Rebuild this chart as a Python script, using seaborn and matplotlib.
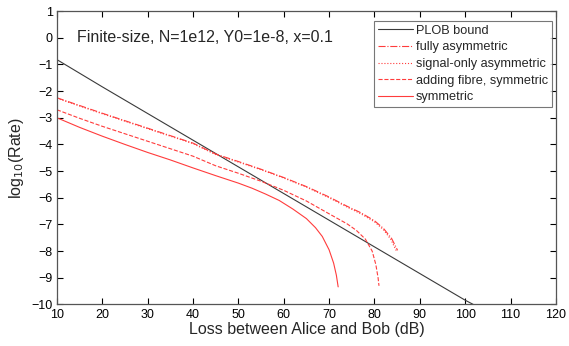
import matplotlib
matplotlib.use("Agg")
import matplotlib.pyplot as plt
import seaborn as sns
import pandas as pd

# Values (loss in dB, log10 of key rate)
plob_loss = [10, 20, 30, 40, 50, 60, 70, 80, 90, 100, 101.8]
plob_rate = [-0.82, -1.84, -2.84, -3.84, -4.84, -5.84, -6.84, -7.84, -8.84, -9.84, -10.0]

full_loss = [10, 15, 20, 25, 30, 35, 40, 45, 50, 55, 60, 65, 70, 74, 77, 80, 82, 83.8, 85.1]
full_rate = [-2.25, -2.54, -2.83, -3.11, -3.39, -3.67, -3.95, -4.36, -4.64, -4.93, -5.24, -5.58, -5.97, -6.32, -6.56, -6.86, -7.15, -7.53, -7.97]

signal_loss = [10, 15, 20, 25, 30, 35, 40, 45, 50, 55, 60, 65, 70, 74, 77, 80, 82, 83.6, 84.8]
signal_rate = [-2.27, -2.56, -2.85, -3.13, -3.41, -3.69, -3.97, -4.38, -4.66, -4.95, -5.26, -5.6, -6.0, -6.35, -6.6, -6.9, -7.2, -7.56, -7.98]

fibre_loss = [10, 15, 20, 25, 30, 35, 40, 45, 50, 55, 60, 65, 70, 74, 76, 78, 79.5, 80.3, 80.8, 81.0]
fibre_rate = [-2.7, -3.02, -3.32, -3.6, -3.88, -4.16, -4.44, -4.8, -5.08, -5.38, -5.72, -6.12, -6.6, -6.98, -7.22, -7.55, -8.0, -8.5, -9.0, -9.3]

sym_loss = [10, 15, 20, 25, 30, 35, 40, 45, 50, 53, 56, 59, 62, 65, 67, 68.5, 70, 71, 71.6, 72.0]
sym_rate = [-3.0, -3.36, -3.69, -4.0, -4.3, -4.58, -4.88, -5.17, -5.45, -5.64, -5.86, -6.1, -6.42, -6.78, -7.12, -7.45, -7.95, -8.45, -8.9, -9.34]

series = [
    ("PLOB bound", plob_loss, plob_rate, "#3a3a3a", "-"),
    ("fully asymmetric", full_loss, full_rate, "#ff3c3c", "-."),
    ("signal-only asymmetric", signal_loss, signal_rate, "#ff3c3c", ":"),
    ("adding fibre, symmetric", fibre_loss, fibre_rate, "#ff3c3c", "--"),
    ("symmetric", sym_loss, sym_rate, "#ff3c3c", "-"),
]

sns.set_theme(style="ticks")
plt.rcParams['font.family'] = ['Liberation Sans', 'DejaVu Sans']

fig = plt.figure(figsize=(5.69, 3.46), dpi=100)
ax = fig.add_axes([0.100, 0.120, 0.877, 0.848])

for name, xs, ys, col, ls in series:
    df = pd.DataFrame({"loss": xs, "rate": ys})
    sns.lineplot(data=df, x="loss", y="rate", ax=ax, color=col,
                 linestyle=ls, linewidth=0.8, label=name, sort=False)

ax.set_xlim(10, 120)
ax.set_ylim(-10, 1)
ax.set_xticks(range(10, 121, 10))
ax.set_yticks(range(-10, 2))
ax.tick_params(direction="in", top=True, right=True, length=4, width=0.8,
               labelsize=9, colors="black", pad=3)
for sp in ax.spines.values():
    sp.set_color("#555555")
    sp.set_linewidth(0.9)

ax.set_xlabel("Loss between Alice and Bob (dB)", fontsize=11.5, labelpad=1)
ax.set_ylabel(r"log$_{10}$(Rate)", fontsize=11.5, labelpad=4)

ax.text(14.4, 0.0, "Finite-size, N=1e12, Y0=1e-8, x=0.1", fontsize=11.5,
        va="center", ha="left")

leg = ax.legend(loc="upper right", bbox_to_anchor=(0.997, 0.975), fontsize=9.2,
                frameon=True, fancybox=False, handlelength=2.8,
                handletextpad=0.2, labelspacing=0.36, borderpad=0.3,
                borderaxespad=0.2)
leg.get_frame().set_edgecolor("#555555")
leg.get_frame().set_linewidth(0.8)

fig.savefig("out.png", dpi=100, facecolor="white")
